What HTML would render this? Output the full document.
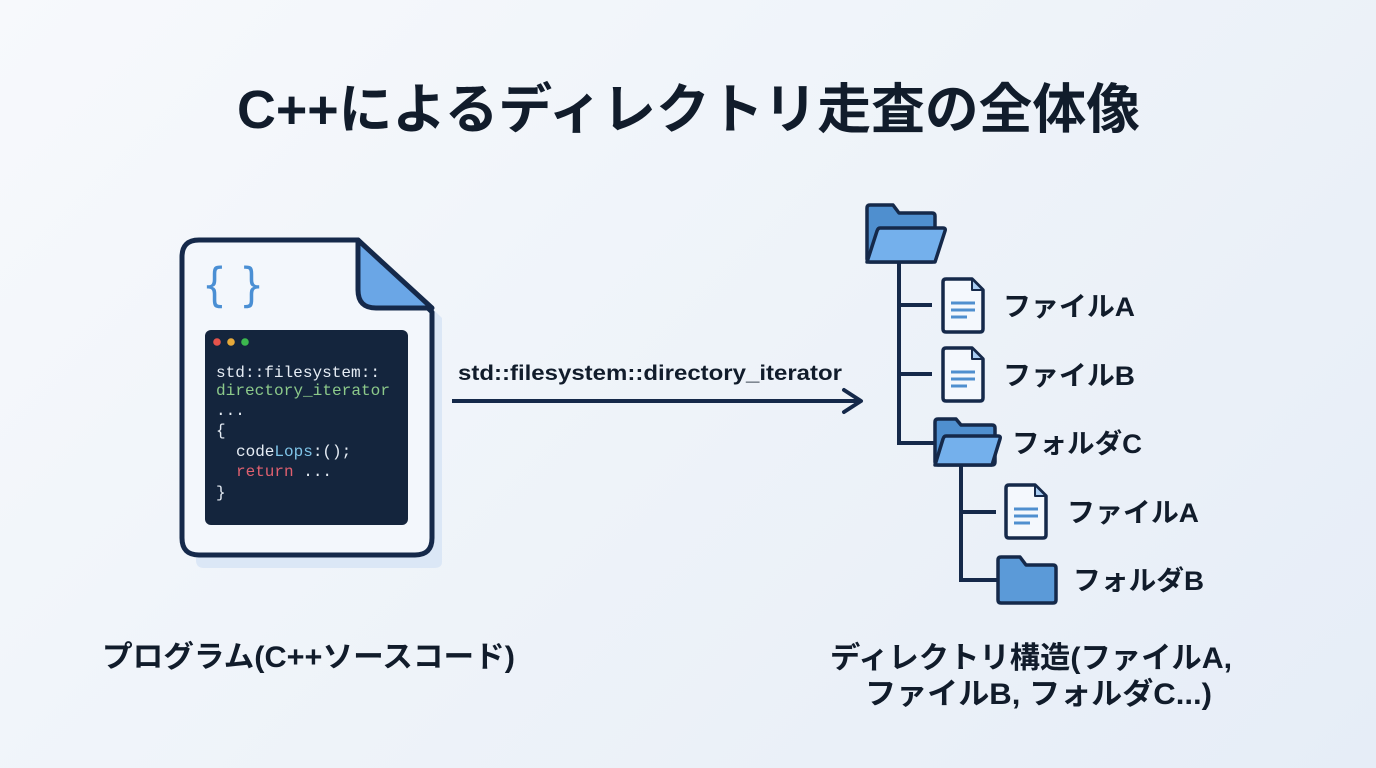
<!DOCTYPE html>
<html><head><meta charset="utf-8">
<style>
html,body{margin:0;padding:0;width:1376px;height:768px;overflow:hidden;}
body{background:linear-gradient(135deg,#f7f9fc 0%,#eef3f9 50%,#e6edf7 100%);}
svg{display:block}
.t{font-family:"Liberation Sans","Noto Sans CJK JP",sans-serif;font-weight:bold;fill:#111c2b;}
.m{font-family:"Liberation Mono","DejaVu Sans Mono",monospace;font-size:16px;}
</style></head>
<body>
<svg width="1376" height="768" viewBox="0 0 1376 768" xmlns="http://www.w3.org/2000/svg">
<text class="t" x="237" y="128" font-size="54" textLength="903" lengthAdjust="spacingAndGlyphs">C++によるディレクトリ走査の全体像</text>

<!-- document shadow -->
<path d="M196 258 Q196 250 204 250 L372 250 L442 318 L442 562 Q442 568 434 568 L204 568 Q196 568 196 560 Z" fill="#dbe7f6"/>
<!-- document -->
<path d="M200 240 L358 240 L432 312 L432 538 Q432 555 415 555 L199 555 Q182 555 182 538 L182 257 Q182 240 199 240 Z" fill="#f3f7fc" stroke="#15294a" stroke-width="5" stroke-linejoin="round"/>
<path d="M358 240 L358 290 Q358 308 376 308 L432 308 Z" fill="#6aa6e6" stroke="#15294a" stroke-width="5" stroke-linejoin="round"/>
<!-- braces -->
<text x="202" y="301" font-family="DejaVu Sans,sans-serif" font-size="46" fill="#4a8fd4" textLength="62" lengthAdjust="spacingAndGlyphs">{ }</text>
<!-- code panel -->
<rect x="205" y="330" width="203" height="195" rx="6" fill="#14253d"/>
<circle cx="217" cy="342" r="3.8" fill="#e5534b"/>
<circle cx="231" cy="342" r="3.8" fill="#e6a93a"/>
<circle cx="245" cy="342" r="3.8" fill="#3cb84e"/>
<text class="m" x="216" y="377" fill="#e6edf5" textLength="164" lengthAdjust="spacingAndGlyphs">std::filesystem::</text>
<text class="m" x="216" y="395" fill="#8cc98a" textLength="174" lengthAdjust="spacingAndGlyphs">directory_iterator</text>
<text class="m" x="216" y="415" fill="#e6edf5">...</text>
<text class="m" x="216" y="435" fill="#e6edf5">{</text>
<text class="m" x="236" y="456" fill="#e6edf5">code<tspan fill="#7fc4e8">Lops</tspan>:();</text>
<text class="m" x="236" y="476" fill="#e0606f">return <tspan fill="#e6edf5">...</tspan></text>
<text class="m" x="216" y="497" fill="#e6edf5">}</text>

<!-- arrow -->
<text class="t" x="458" y="380" font-size="21" textLength="384" lengthAdjust="spacingAndGlyphs">std::filesystem::directory_iterator</text>
<line x1="452" y1="401" x2="860" y2="401" stroke="#15294a" stroke-width="4"/>
<polyline points="844,390 861,401 844,412" fill="none" stroke="#15294a" stroke-width="4" stroke-linecap="round" stroke-linejoin="round"/>

<!-- tree lines -->
<g stroke="#15294a" stroke-width="4" fill="none">
<polyline points="899,262 899,443 936,443"/>
<line x1="899" y1="305" x2="932" y2="305"/>
<line x1="899" y1="374" x2="932" y2="374"/>
<polyline points="961,465 961,580 999,580"/>
<line x1="961" y1="512" x2="996" y2="512"/>
</g>

<!-- root folder -->
<g stroke="#15294a" stroke-width="3.5" stroke-linejoin="round">
<path d="M870 205 L893 205 L899 213 L932 213 Q935 213 935 216 L935 259 Q935 262 932 262 L870 262 Q867 262 867 259 L867 208 Q867 205 870 205 Z" fill="#4f8fcf"/>
<path d="M880 228 L943 228 Q946 228 945 231 L935 262 L867 262 L877 231 Q878 228 880 228 Z" fill="#74b0ec"/>
</g>
<!-- folder C -->
<g stroke="#15294a" stroke-width="3.5" stroke-linejoin="round">
<path d="M938 419 L956 419 L961 425 L992 425 Q995 425 995 428 L995 462 Q995 465 992 465 L938 465 Q935 465 935 462 L935 422 Q935 419 938 419 Z" fill="#4f8fcf"/>
<path d="M946 436 L998 436 Q1001 436 1000 439 L992 465 L935 465 L943 439 Q944 436 946 436 Z" fill="#74b0ec"/>
</g>
<!-- folder B -->
<g stroke="#15294a" stroke-width="3.5" stroke-linejoin="round">
<path d="M1001 557 L1020 557 L1026 565 L1053 565 Q1056 565 1056 568 L1056 600 Q1056 603 1053 603 L1001 603 Q998 603 998 600 L998 560 Q998 557 1001 557 Z" fill="#5b9ad8"/>
</g>

<!-- file icons -->
<g id="f1">
<path d="M946 279 L972 279 L983 290 L983 329 Q983 332 980 332 L946 332 Q943 332 943 329 L943 282 Q943 279 946 279 Z" fill="#f4f8fd" stroke="#15294a" stroke-width="3.5" stroke-linejoin="round"/>
<path d="M972 279 L972 290 L983 290 Z" fill="#a9cdf3" stroke="#15294a" stroke-width="2" stroke-linejoin="round"/>
<g stroke="#4f8fcf" stroke-width="3"><line x1="951" y1="303" x2="975" y2="303"/><line x1="951" y1="310" x2="975" y2="310"/><line x1="951" y1="317" x2="967" y2="317"/></g>
</g>
<use href="#f1" transform="translate(0,69)"/>
<use href="#f1" transform="translate(63,206)"/>

<!-- tree labels -->
<text class="t" x="1003" y="316" font-size="27" textLength="132" lengthAdjust="spacingAndGlyphs">ファイルA</text>
<text class="t" x="1003" y="385" font-size="27" textLength="132" lengthAdjust="spacingAndGlyphs">ファイルB</text>
<text class="t" x="1012" y="453" font-size="27" textLength="130" lengthAdjust="spacingAndGlyphs">フォルダC</text>
<text class="t" x="1067" y="522" font-size="27" textLength="132" lengthAdjust="spacingAndGlyphs">ファイルA</text>
<text class="t" x="1073" y="590" font-size="27" textLength="131" lengthAdjust="spacingAndGlyphs">フォルダB</text>

<!-- bottom labels -->
<text class="t" x="102" y="667" font-size="30" textLength="413" lengthAdjust="spacingAndGlyphs">プログラム(C++ソースコード)</text>
<text class="t" x="830" y="668" font-size="30" textLength="402" lengthAdjust="spacingAndGlyphs">ディレクトリ構造(ファイルA,</text>
<text class="t" x="865" y="704" font-size="30" textLength="347" lengthAdjust="spacingAndGlyphs">ファイルB, フォルダC...)</text>
</svg>
</body></html>
